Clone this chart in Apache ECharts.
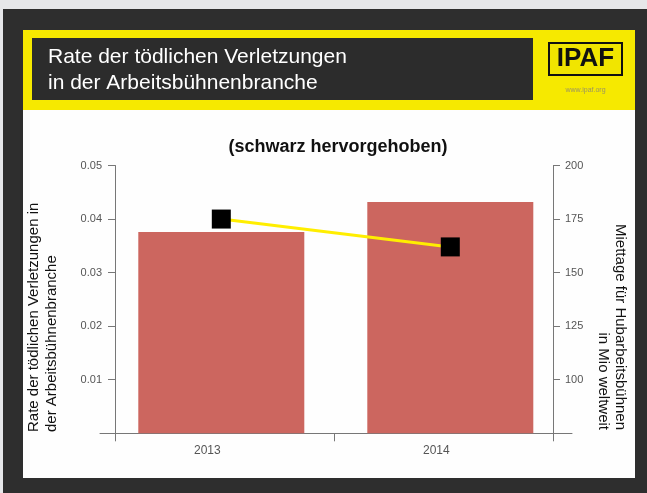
<!DOCTYPE html>
<html>
<head>
<meta charset="utf-8">
<script src="https://cdn.jsdelivr.net/npm/echarts@6/dist/echarts.min.js"></script>
<style>
  html, body { margin: 0; padding: 0; background: #e6e7e9; }
  #chart { width: 647px; height: 493px; }
</style>
</head>
<body>
<div id="chart"></div>
<script>
// data
const years = ['2013', '2014']
const fatalRate = [0.0376, 0.0432]
const rentalDays = [175, 162]
const rateTicks = { min: 0, max: 0.05, interval: 0.01 }
const daysTicks = { min: 75, max: 200, interval: 25 }

const font = 'Liberation Sans, Arial, sans-serif'
const axisColor = '#777'
const labelColor = '#555'
const plotTop = 165.5
const plotHeight = 267.8

const chartDom = document.getElementById('chart')
const myChart = echarts.init(chartDom)

const option = {
  backgroundColor: '#e6e7e9',
  animation: false,
  textStyle: { fontFamily: font },
  title: {
    text: '(schwarz hervorgehoben)',
    left: 333,
    textAlign: 'center',
    top: 133,
    textStyle: { fontSize: 18, fontWeight: 'bold', color: '#111', fontFamily: font }
  },
  graphic: [
    // slide frame
    { type: 'rect', z: -10, shape: { x: 3, y: 9, width: 644, height: 484 }, style: { fill: '#2e2e2e' } },
    { type: 'rect', z: -9, shape: { x: 23, y: 30, width: 612, height: 448 }, style: { fill: '#fefefe' } },
    // header
    { type: 'rect', z: -8, shape: { x: 23, y: 30, width: 612, height: 80 }, style: { fill: '#f6e900' } },
    { type: 'rect', z: -7, shape: { x: 32, y: 38, width: 501, height: 62 }, style: { fill: '#2c2c2c' } },
    {
      type: 'text', z: -6, x: 48, y: 44,
      style: {
        text: 'Rate der tödlichen Verletzungen\nin der Arbeitsbühnenbranche',
        fill: '#fff', font: '21px ' + font, lineHeight: 26, verticalAlign: 'top'
      }
    },
    // logo
    { type: 'rect', z: -6, shape: { x: 549, y: 43, width: 73, height: 32 }, style: { fill: '#f1e500', stroke: '#111', lineWidth: 2 } },
    {
      type: 'text', z: -5, x: 585.5, y: 59,
      style: { text: 'IPAF', fill: '#111', font: 'bold 26px ' + font, align: 'center', verticalAlign: 'middle' }
    },
    {
      type: 'text', z: -5, x: 585.5, y: 90,
      style: { text: 'www.ipaf.org', fill: '#9a9460', font: '7px ' + font, align: 'center', verticalAlign: 'middle' }
    },
    // axis names
    {
      type: 'text', x: 25, y: 432, rotation: Math.PI / 2,
      style: {
        text: 'Rate der tödlichen Verletzungen in\nder Arbeitsbühnenbranche',
        fill: '#111', font: '15px ' + font, lineHeight: 18, align: 'left', verticalAlign: 'top'
      }
    },
    {
      type: 'text', x: 629, y: 430, rotation: -Math.PI / 2,
      style: {
        text: 'Miettage für Hubarbeitsbühnen\nin Mio weltweit',
        fill: '#111', font: '15px ' + font, lineHeight: 17, align: 'right', verticalAlign: 'top'
      }
    }
  ],
  grid: [
    { left: 106.8, width: 458, top: plotTop, height: plotHeight },
    { left: 115, width: 438, top: plotTop, height: plotHeight },
    { left: 100, width: 472, top: plotTop, height: plotHeight }
  ],
  xAxis: [
    {
      gridIndex: 0,
      type: 'category',
      data: years,
      axisLine: { show: false },
      axisTick: { show: false },
      axisLabel: { margin: 11, fontSize: 12, color: labelColor, padding: [0, 28, 0, 0] }
    },
    {
      gridIndex: 1,
      type: 'category',
      data: years,
      boundaryGap: true,
      axisLine: { show: false },
      axisTick: { show: true, length: 8, lineStyle: { color: axisColor } },
      axisLabel: { show: false }
    },
    {
      gridIndex: 2,
      type: 'category',
      data: years,
      axisLine: { show: true, lineStyle: { color: axisColor } },
      axisTick: { show: false },
      axisLabel: { show: false }
    }
  ],
  yAxis: [
    { gridIndex: 0, type: 'value', ...rateTicks, show: false },
    { gridIndex: 0, type: 'value', ...daysTicks, show: false },
    {
      gridIndex: 1,
      type: 'value',
      position: 'left',
      ...rateTicks,
      axisLine: { show: true, lineStyle: { color: axisColor } },
      axisTick: { show: true, length: 7, lineStyle: { color: axisColor } },
      axisLabel: { margin: 13, fontSize: 11, color: labelColor, showMinLabel: false },
      splitLine: { show: false }
    },
    {
      gridIndex: 1,
      type: 'value',
      position: 'right',
      ...daysTicks,
      axisLine: { show: true, lineStyle: { color: axisColor } },
      axisTick: { show: true, length: 7, lineStyle: { color: axisColor } },
      axisLabel: { margin: 12, fontSize: 11, color: labelColor, showMinLabel: false },
      splitLine: { show: false }
    },
    { gridIndex: 2, type: 'value', show: false }
  ],
  series: [
    {
      name: 'Rate',
      type: 'bar',
      xAxisIndex: 0,
      yAxisIndex: 0,
      barWidth: 166,
      itemStyle: { color: '#cc665f' },
      data: fatalRate
    },
    {
      name: 'Miettage',
      type: 'line',
      xAxisIndex: 0,
      yAxisIndex: 1,
      symbol: 'rect',
      symbolSize: 19,
      itemStyle: { color: '#000' },
      lineStyle: { color: '#ffee00', width: 3 },
      z: 5,
      data: rentalDays
    }
  ]
}
option && myChart.setOption(option)
</script>
</body>
</html>
